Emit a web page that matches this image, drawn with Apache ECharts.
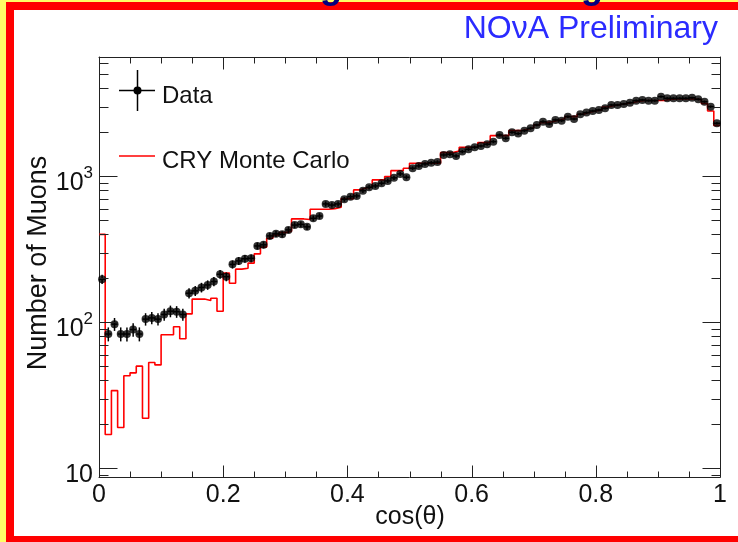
<!DOCTYPE html>
<html>
<head>
<meta charset="utf-8">
<script src="https://cdn.jsdelivr.net/npm/echarts@6/dist/echarts.min.js"></script>
<style>
html, body { margin: 0; padding: 0; background: #ffffff; }
#chart { width: 738px; height: 542px; }
</style>
</head>
<body>
<div id="chart"></div>
<script>
// Zenith-angle distribution of cosmic muons: data vs. CRY simulation, 100 bins in cos(theta)
const cosThetaMin = 0;
const cosThetaMax = 1;
const binWidth = 0.01;

const dataCounts = [
  197, 83, 97, 83, 83, 89, 83, 105, 107, 105,
  113, 119, 118, 113, 158, 164, 173, 180, 190, 213,
  205, 249, 263, 272, 274, 333, 339, 390, 403, 400,
  429, 463, 468, 450, 515, 534, 646, 635, 646, 695,
  724, 733, 796, 841, 858, 896, 929, 975, 1037, 985,
  1135, 1177, 1214, 1239, 1250, 1399, 1415, 1377, 1475, 1531,
  1580, 1612, 1656, 1726, 1918, 1820, 2000, 1960, 2052, 2132,
  2245, 2366, 2282, 2433, 2404, 2561, 2468, 2659, 2728, 2800,
  2845, 2922, 3078, 3078, 3126, 3192, 3296, 3332, 3296, 3296,
  3509, 3420, 3420, 3420, 3420, 3450, 3366, 3243, 2998, 2307
];

const mcCounts = [
  400, 17, 34, 19, 43, 45, 50, 22, 53, 51,
  82, 82, 93, 77, 114, 144, 144, 141, 146, 119,
  217, 185, 231, 234, 254, 294, 327, 376, 396, 411,
  420, 510, 510, 505, 594, 594, 594, 600, 614, 703,
  703, 806, 830, 841, 944, 944, 994, 1092, 1092, 1135,
  1227, 1227, 1227, 1227, 1227, 1451, 1451, 1490, 1580, 1580,
  1580, 1700, 1700, 1897, 1897, 1897, 2052, 2052, 2100, 2150,
  2250, 2330, 2360, 2420, 2480, 2560, 2560, 2660, 2740, 2800,
  2860, 2980, 3050, 3100, 3150, 3200, 3260, 3300, 3300, 3300,
  3300, 3360, 3380, 3380, 3380, 3380, 3350, 3150, 2800, 2230
];

const xTickLabels = ['0', '0.2', '0.4', '0.6', '0.8', '1'];
const xMajorTicks = [0, 0.2, 0.4, 0.6, 0.8, 1];
const xMinorTicks = [0.05, 0.1, 0.15, 0.25, 0.3, 0.35, 0.45, 0.5, 0.55, 0.65, 0.7, 0.75, 0.85, 0.9, 0.95];
const yMajorTicks = [10, 100, 1000];
const yMinorTicks = [9, 20, 30, 40, 50, 60, 70, 80, 90, 200, 300, 400, 500, 600, 700, 800, 900,
                     2000, 3000, 4000, 5000, 6000];
const yMin = 8.7;
const yMax = 6560;

const FONT = '"Liberation Sans", Arial, Helvetica, sans-serif';
const TEXT = '#111111';
const AXIS = '#222222';

// Bin centres and the histogram outline (left edge of every bin plus the closing edge)
const dataPoints = dataCounts.map((v, k) => [cosThetaMin + (k + 0.5) * binWidth, v]);
const mcOutline = mcCounts.map((v, k) => [cosThetaMin + k * binWidth, v]);
mcOutline.push([cosThetaMax, mcCounts[mcCounts.length - 1]]);

const chart = echarts.init(document.getElementById('chart'), null, { renderer: 'canvas' });

function crisp(v) { return Math.round(v) + 0.5; }

function renderTicks(params, api) {
  const children = [];
  const style = { stroke: AXIS, lineWidth: 1 };
  const left = crisp(api.coord([cosThetaMin, yMin])[0]);
  const right = crisp(api.coord([cosThetaMax, yMin])[0]);
  const bottom = crisp(api.coord([cosThetaMin, yMin])[1]);
  const top = crisp(api.coord([cosThetaMin, yMax])[1]);
  const yTick = (v, len) => {
    const y = crisp(api.coord([cosThetaMin, v])[1]);
    children.push({ type: 'line', shape: { x1: left, y1: y, x2: left + len, y2: y }, style });
    children.push({ type: 'line', shape: { x1: right, y1: y, x2: right - len, y2: y }, style });
  };
  const xTick = (v, len) => {
    const x = crisp(api.coord([v, yMin])[0]);
    children.push({ type: 'line', shape: { x1: x, y1: bottom, x2: x, y2: bottom - len }, style });
    children.push({ type: 'line', shape: { x1: x, y1: top, x2: x, y2: top + len }, style });
  };
  yMajorTicks.forEach(v => yTick(v, 18));
  yMinorTicks.forEach(v => yTick(v, 9));
  xMajorTicks.forEach(v => xTick(v, 12));
  xMinorTicks.forEach(v => xTick(v, 6));
  return { type: 'group', children };
}

function renderErrorBars(params, api) {
  const x = api.value(0);
  const v = api.value(1);
  const err = Math.sqrt(v);
  const c = api.coord([x, v]);
  const lo = api.coord([x, v - err]);
  const hi = api.coord([x, v + err]);
  const l = api.coord([x - binWidth / 2, v]);
  const r = api.coord([x + binWidth / 2, v]);
  const style = { stroke: '#000000', lineWidth: 1.5 };
  return {
    type: 'group',
    children: [
      { type: 'line', shape: { x1: c[0], y1: lo[1], x2: c[0], y2: hi[1] }, style },
      { type: 'line', shape: { x1: l[0], y1: c[1], x2: r[0], y2: c[1] }, style }
    ]
  };
}

function yLabel(v) {
  const e = Math.log10(v);
  const n = Math.round(e);
  if (Math.abs(e - n) > 1e-6) return '';
  if (n === 1) return '{b|10}';
  return '{b|10}{s|' + n + '}';
}

const axisLineStyle = { show: true, onZero: false, lineStyle: { color: AXIS, width: 1 } };

chart.setOption({
  animation: false,
  backgroundColor: '#ffffff',
  grid: { left: 99, right: 18, top: 57, bottom: 65, containLabel: false, outerBoundsMode: 'none' },
  xAxis: [
    {
      type: 'value', position: 'bottom', min: cosThetaMin, max: cosThetaMax, interval: 0.2,
      axisLine: axisLineStyle, axisTick: { show: false }, splitLine: { show: false },
      axisLabel: {
        margin: 6, fontSize: 25, color: TEXT, fontFamily: FONT,
        formatter: v => xTickLabels[Math.round(v / 0.2)]
      }
    },
    {
      type: 'value', position: 'top', min: cosThetaMin, max: cosThetaMax, interval: 0.2,
      axisLine: axisLineStyle, axisTick: { show: false }, splitLine: { show: false },
      axisLabel: { show: false }
    }
  ],
  yAxis: [
    {
      type: 'log', logBase: 10, position: 'left', min: yMin, max: yMax,
      axisLine: axisLineStyle, axisTick: { show: false }, splitLine: { show: false },
      axisLabel: {
        margin: 6, color: TEXT, fontFamily: FONT, showMinLabel: false, showMaxLabel: false,
        padding: [8, 0, 0, 0],
        formatter: yLabel,
        rich: {
          b: { fontSize: 25, color: TEXT, fontFamily: FONT, lineHeight: 30, verticalAlign: 'bottom' },
          s: { fontSize: 17, color: TEXT, fontFamily: FONT, lineHeight: 30, verticalAlign: 'top' }
        }
      }
    },
    {
      type: 'log', logBase: 10, position: 'right', min: yMin, max: yMax,
      axisLine: axisLineStyle, axisTick: { show: false }, splitLine: { show: false },
      axisLabel: { show: false }
    }
  ],
  series: [
    {
      name: 'CRY Monte Carlo', type: 'line', step: 'end', data: mcOutline,
      showSymbol: false, clip: true, z: 2,
      lineStyle: { color: '#ff0000', width: 1.6 }
    },
    {
      name: 'Data errors', type: 'custom', renderItem: renderErrorBars, data: dataPoints, z: 3
    },
    {
      name: 'Data', type: 'scatter', data: dataPoints, symbol: 'circle', symbolSize: 8, z: 4,
      itemStyle: { color: '#000000' }
    },
    {
      name: 'Ticks', type: 'custom', renderItem: renderTicks, data: [[cosThetaMin, yMin]], z: 5, silent: true
    }
  ],
  graphic: [
    // axis titles
    { type: 'text', x: 39, y: 263, rotation: Math.PI / 2,
      style: { text: 'Number of Muons', fontSize: 27, fill: TEXT, fontFamily: FONT, align: 'center', verticalAlign: 'middle' }, z: 10 },
    { type: 'text', x: 410, y: 517,
      style: { text: 'cos(θ)', fontSize: 25, fill: TEXT, fontFamily: FONT, align: 'center', verticalAlign: 'middle' }, z: 10 },
    // legend
    { type: 'line', shape: { x1: 137.5, y1: 70, x2: 137.5, y2: 111 }, style: { stroke: '#000', lineWidth: 1.5 }, z: 10 },
    { type: 'line', shape: { x1: 119, y1: 90.5, x2: 155, y2: 90.5 }, style: { stroke: '#000', lineWidth: 1.5 }, z: 10 },
    { type: 'circle', shape: { cx: 137.5, cy: 90.5, r: 4 }, style: { fill: '#000' }, z: 10 },
    { type: 'text', left: 162, top: 84, style: { text: 'Data', fontSize: 24, fill: TEXT, fontFamily: FONT }, z: 10 },
    { type: 'line', shape: { x1: 119, y1: 156, x2: 155, y2: 156 }, style: { stroke: '#ff0000', lineWidth: 1.6 }, z: 10 },
    { type: 'text', left: 162, top: 149, style: { text: 'CRY Monte Carlo', fontSize: 24, fill: TEXT, fontFamily: FONT }, z: 10 },
    // header label
    { type: 'text', right: 20, top: 13, style: { text: 'NOνA Preliminary', fontSize: 32, fill: '#2b2bff', fontFamily: FONT }, z: 10 },
    // page frame
    { type: 'rect', shape: { x: 0, y: 0, width: 6, height: 542 }, style: { fill: '#ffff66' }, z: 20 },
    { type: 'rect', shape: { x: 0, y: 0, width: 738, height: 2 }, style: { fill: '#ffff66' }, z: 20 },
    { type: 'rect', shape: { x: 6, y: 2, width: 8, height: 540 }, style: { fill: '#ff0000' }, z: 21 },
    { type: 'rect', shape: { x: 6, y: 2, width: 732, height: 8 }, style: { fill: '#ff0000' }, z: 21 },
    { type: 'rect', shape: { x: 6, y: 536, width: 732, height: 6 }, style: { fill: '#ff0000' }, z: 21 },
    // descenders of the slide heading above
    { type: 'text', x: 331, y: -30, style: { text: 'g', fontSize: 36, fontWeight: 'bold', fill: '#000080', fontFamily: FONT, align: 'center' }, z: 22 },
    { type: 'text', x: 592, y: -30, style: { text: 'g', fontSize: 36, fontWeight: 'bold', fill: '#000080', fontFamily: FONT, align: 'center' }, z: 22 }
  ]
});
</script>
</body>
</html>
